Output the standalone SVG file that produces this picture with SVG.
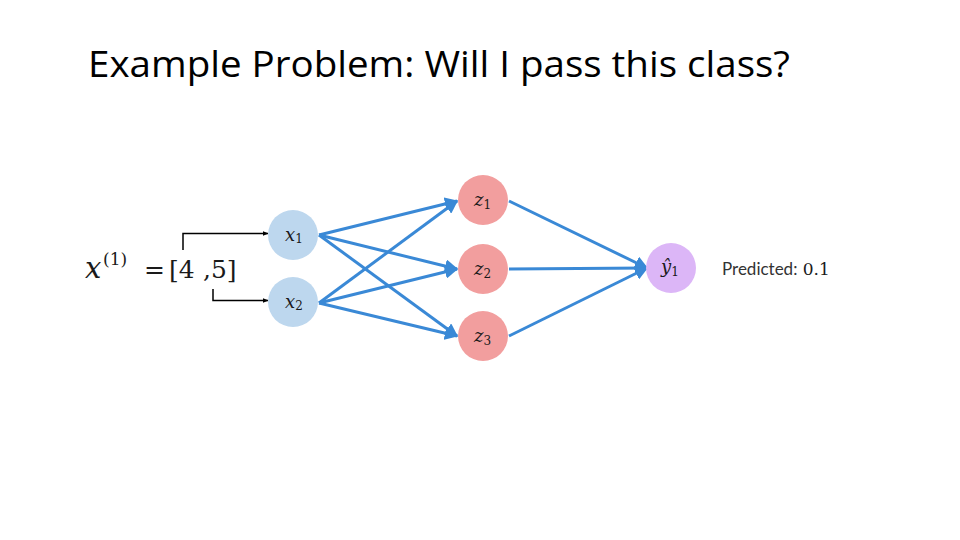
<svg xmlns="http://www.w3.org/2000/svg" width="960" height="540" viewBox="0 0 960 540">
<defs>
<marker id="blueArrow" viewBox="0 0 10 10" refX="9" refY="5" markerWidth="4.5" markerHeight="4.5" orient="auto" markerUnits="strokeWidth">
<path d="M0,0 L10,5 L0,10 Z" fill="#3a89d6"/>
</marker>
<marker id="blackArrow" viewBox="0 0 10 10" refX="9" refY="5" markerWidth="4" markerHeight="4" orient="auto" markerUnits="strokeWidth">
<path d="M0,1 L10,5 L0,9 Z" fill="#000"/>
</marker>
</defs>
<style>
.title{font-family:"Open Sans","Liberation Sans",sans-serif;font-size:37px;fill:#000}
.math{font-family:"DejaVu Serif","Liberation Serif",serif;font-style:italic;fill:#1a1a1a}
.up{font-family:"DejaVu Serif","Liberation Serif",serif;fill:#1a1a1a}
.edge{stroke:#3a89d6;stroke-width:3;fill:none;marker-end:url(#blueArrow)}
.feed{stroke:#000;stroke-width:1.5;fill:none;marker-end:url(#blackArrow)}
.xn{fill:#bdd7ee}
.zn{fill:#f29e9e}
.yn{fill:#dcb6f7}
.lbl{font-family:"Lato","Liberation Sans",sans-serif;font-size:17px;fill:#333}
</style>
<rect width="960" height="540" fill="#fff"/>
<text class="title" x="88" y="77" textLength="702" lengthAdjust="spacingAndGlyphs">Example Problem: Will I pass this class?</text>

<g id="input-vector">
<text class="math" x="85" y="278" font-size="29">x</text>
<text class="up" x="103" y="265" font-size="17">(1)</text>
<text class="up" x="144" y="278" font-size="25">=</text>
<text class="up" x="169" y="278" font-size="25">[4</text>
<text class="up" x="203" y="278" font-size="25">,5]</text>
</g>

<g id="connectors">
<path class="feed" d="M183,250 V233.5 H268"/>
<path class="feed" d="M213,289 V300.5 H268"/>
<line class="edge" x1="319" y1="235" x2="457" y2="201"/>
<line class="edge" x1="319" y1="235" x2="457" y2="269"/>
<line class="edge" x1="319" y1="235" x2="457" y2="336"/>
<line class="edge" x1="319" y1="303" x2="457" y2="201"/>
<line class="edge" x1="319" y1="303" x2="457" y2="269"/>
<line class="edge" x1="319" y1="303" x2="457" y2="336"/>
<line class="edge" x1="509" y1="201" x2="647" y2="268"/>
<line class="edge" x1="509" y1="269" x2="647" y2="268"/>
<line class="edge" x1="509" y1="336" x2="647" y2="268"/>
</g>

<g id="x1">
<circle class="xn" cx="293" cy="235" r="25"/>
<text x="285" y="241"><tspan class="math" font-size="18">x</tspan><tspan class="up" font-size="12" dy="2">1</tspan></text>
</g>
<g id="x2">
<circle class="xn" cx="293" cy="302" r="25"/>
<text x="285" y="308"><tspan class="math" font-size="18">x</tspan><tspan class="up" font-size="12" dy="2">2</tspan></text>
</g>
<g id="z1">
<circle class="zn" cx="483" cy="200" r="25"/>
<text x="474" y="206"><tspan class="math" font-size="18">z</tspan><tspan class="up" font-size="12" dy="3">1</tspan></text>
</g>
<g id="z2">
<circle class="zn" cx="483" cy="269" r="25"/>
<text x="474" y="275"><tspan class="math" font-size="18">z</tspan><tspan class="up" font-size="12" dy="3">2</tspan></text>
</g>
<g id="z3">
<circle class="zn" cx="483" cy="336" r="25"/>
<text x="474" y="342"><tspan class="math" font-size="18">z</tspan><tspan class="up" font-size="12" dy="3">3</tspan></text>
</g>
<g id="y1">
<circle class="yn" cx="671" cy="268" r="25"/>
<text x="661" y="273"><tspan class="math" font-size="18">ŷ</tspan><tspan class="up" font-size="12" dy="3">1</tspan></text>
</g>
<g id="prediction">
<text x="722" y="275"><tspan class="lbl">Predicted:</tspan><tspan class="up" font-size="17"> 0.1</tspan></text>
</g>
</svg>
